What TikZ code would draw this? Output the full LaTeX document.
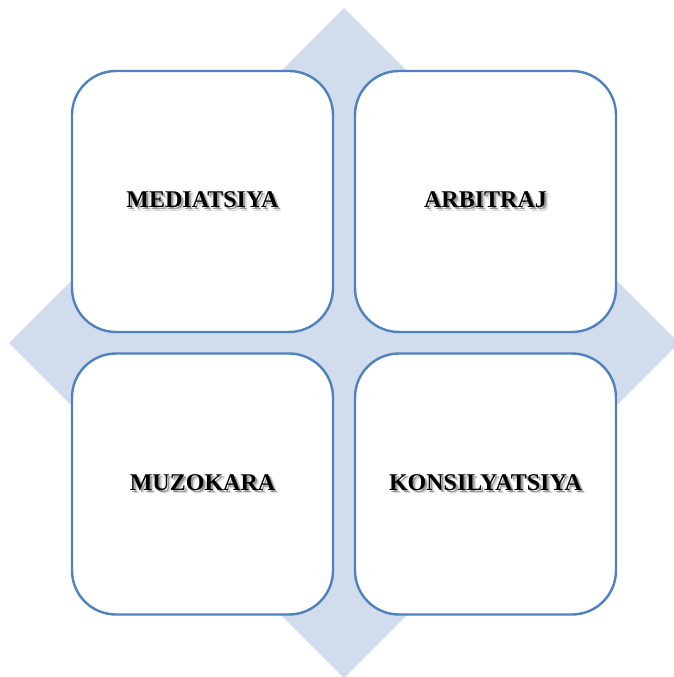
\documentclass[tikz,border=0pt]{standalone}
\usepackage{fontspec}
\setmainfont{Liberation Serif}
\definecolor{quadblue}{RGB}{79,129,189}
\definecolor{quadfill}{RGB}{209,221,237}
\tikzset{
    quad/.style={draw=quadblue, line width=2.4pt, rounded corners=44pt, fill=white,
        minimum size=261pt, inner sep=0pt, font=\fontsize{24}{28}\selectfont\bfseries},
}
% blurred-looking text shadow, kept inside one node
\newcommand{\shadowed}[1]{%
    \makebox[0pt][l]{\hspace{3.5pt}\raisebox{-3.5pt}{\color{black!15}#1}}%
    \makebox[0pt][l]{\hspace{2pt}\raisebox{-2pt}{\color{black!40}#1}}%
    #1}
\begin{document}
\begin{tikzpicture}[x=1pt,y=-1pt]
    \useasboundingbox (0,0) rectangle (673,677);
    \fill[quadfill] (344,8) -- (679,343) -- (344,678) -- (9,343) -- cycle;
    \node[quad] (med) at (202.5,201.5) {\shadowed{MEDIATSIYA}};
    \node[quad] (arb) at (485.5,201.5) {\shadowed{ARBITRAJ}};
    \node[quad] (muz) at (202.5,484) {\shadowed{MUZOKARA}};
    \node[quad] (kon) at (485.5,484) {\shadowed{KONSILYATSIYA}};
\end{tikzpicture}
\end{document}
